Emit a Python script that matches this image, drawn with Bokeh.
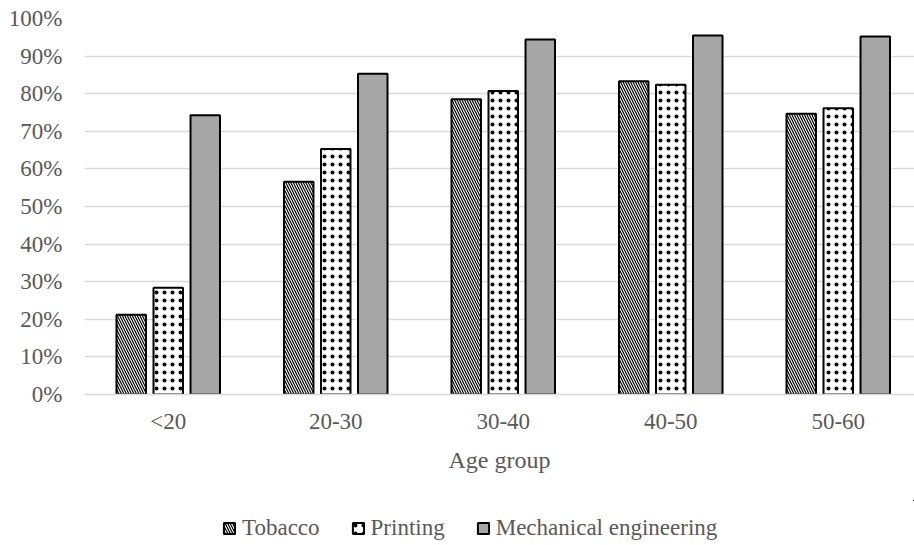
import numpy as np
from bokeh.plotting import figure
from bokeh.layouts import column
from bokeh.models import (ColumnDataSource, Range1d, FixedTicker, NumeralTickFormatter,
                          Legend, LegendItem)
from bokeh.transform import dodge
from bokeh.embed import file_html
from bokeh.resources import INLINE

categories = ["<20", "20-30", "30-40", "40-50", "50-60"]
tobacco = [0.212, 0.566, 0.785, 0.833, 0.747]
printing = [0.284, 0.653, 0.807, 0.824, 0.761]
mechanical = [0.743, 0.853, 0.944, 0.955, 0.952]
series_names = ["Tobacco", "Printing", "Mechanical engineering"]
y_ticks = [0.0, 0.1, 0.2, 0.3, 0.4, 0.5, 0.6, 0.7, 0.8, 0.9, 1.0]

FONT = "Liberation Serif"
TXT = "#595959"
GRID = "#d9d9d9"

STYLES = [
    dict(fill_color="white", line_color="black", line_width=2,
         hatch_pattern="\\", hatch_color="black", hatch_scale=5, hatch_weight=1.2),
    dict(fill_color="white", line_color="black", line_width=2,
         hatch_pattern=".", hatch_color="black", hatch_scale=8, hatch_weight=0.4),
    dict(fill_color="#a6a6a6", line_color="black", line_width=2),
]

pos = list(np.arange(len(categories)) + 0.5)
src = ColumnDataSource(dict(x=pos, cat=categories, tob=tobacco, pri=printing, mec=mechanical))

p = figure(width=914, height=500, output_backend="svg", toolbar_location=None,
           x_range=Range1d(0, 830 / 167.5), y_range=Range1d(0, 1),
           min_border_left=84, min_border_right=0, min_border_top=18, min_border_bottom=106)
p.outline_line_color = None
p.background_fill_color = "white"

bw = 0.176
off = 0.221
p.vbar(x=dodge("x", -off), top="tob", width=bw, source=src, **STYLES[0])
p.vbar(x=dodge("x", 0), top="pri", width=bw, source=src, **STYLES[1])
p.vbar(x=dodge("x", off), top="mec", width=bw, source=src, **STYLES[2])

# axes
p.xaxis.ticker = FixedTicker(ticks=pos)
p.xaxis.major_label_overrides = {float(v): c for v, c in zip(pos, categories)}
p.xaxis.major_tick_line_color = None
p.xaxis.minor_tick_line_color = None
p.xaxis.major_tick_out = 0
p.xaxis.axis_line_color = GRID
p.xaxis.axis_line_width = 1.5
p.xaxis.major_label_standoff = 14
p.xaxis.major_label_text_font = FONT
p.xaxis.major_label_text_font_size = "23px"
p.xaxis.major_label_text_color = TXT
p.xaxis.axis_label = "Age group"
p.xaxis.axis_label_text_font = FONT
p.xaxis.axis_label_text_font_size = "24px"
p.xaxis.axis_label_text_font_style = "normal"
p.xaxis.axis_label_text_color = TXT
p.xaxis.axis_label_standoff = 10

p.yaxis.ticker = FixedTicker(ticks=y_ticks)
p.yaxis.formatter = NumeralTickFormatter(format="0%")
p.yaxis.axis_line_color = None
p.yaxis.major_tick_line_color = None
p.yaxis.minor_tick_line_color = None
p.yaxis.major_tick_out = 0
p.yaxis.major_label_standoff = 22
p.yaxis.major_label_text_font = FONT
p.yaxis.major_label_text_font_size = "23px"
p.yaxis.major_label_text_color = TXT

p.xgrid.grid_line_color = None
p.ygrid.ticker = FixedTicker(ticks=y_ticks)
p.ygrid.grid_line_color = GRID
p.ygrid.grid_line_width = 1.5

# legend strip below the chart (same bar styles; bars lie outside its visible range)
lg = figure(width=914, height=45, output_backend="svg", toolbar_location=None,
            x_range=Range1d(-10, -9), y_range=Range1d(-10, -9),
            x_axis_location=None, y_axis_location=None,
            min_border_left=0, min_border_right=0, min_border_top=0, min_border_bottom=0)
lg.outline_line_color = None
lg.xgrid.visible = False
lg.ygrid.visible = False
lr = [lg.vbar(x="x", top=col, width=bw, source=src, **st)
      for col, st in zip(["tob", "pri", "mec"], STYLES)]

legend = Legend(items=[LegendItem(label=n, renderers=[r]) for n, r in zip(series_names, lr)],
                orientation="horizontal", location=(138, 4),
                padding=0, margin=0, spacing=31, label_standoff=6,
                glyph_width=14, glyph_height=14,
                label_text_font=FONT, label_text_font_size="23px", label_text_color=TXT,
                border_line_color=None, background_fill_alpha=0)
lg.add_layout(legend, "center")

layout = column(p, lg, spacing=0)
open("out.html", "w").write(file_html(layout, INLINE))
